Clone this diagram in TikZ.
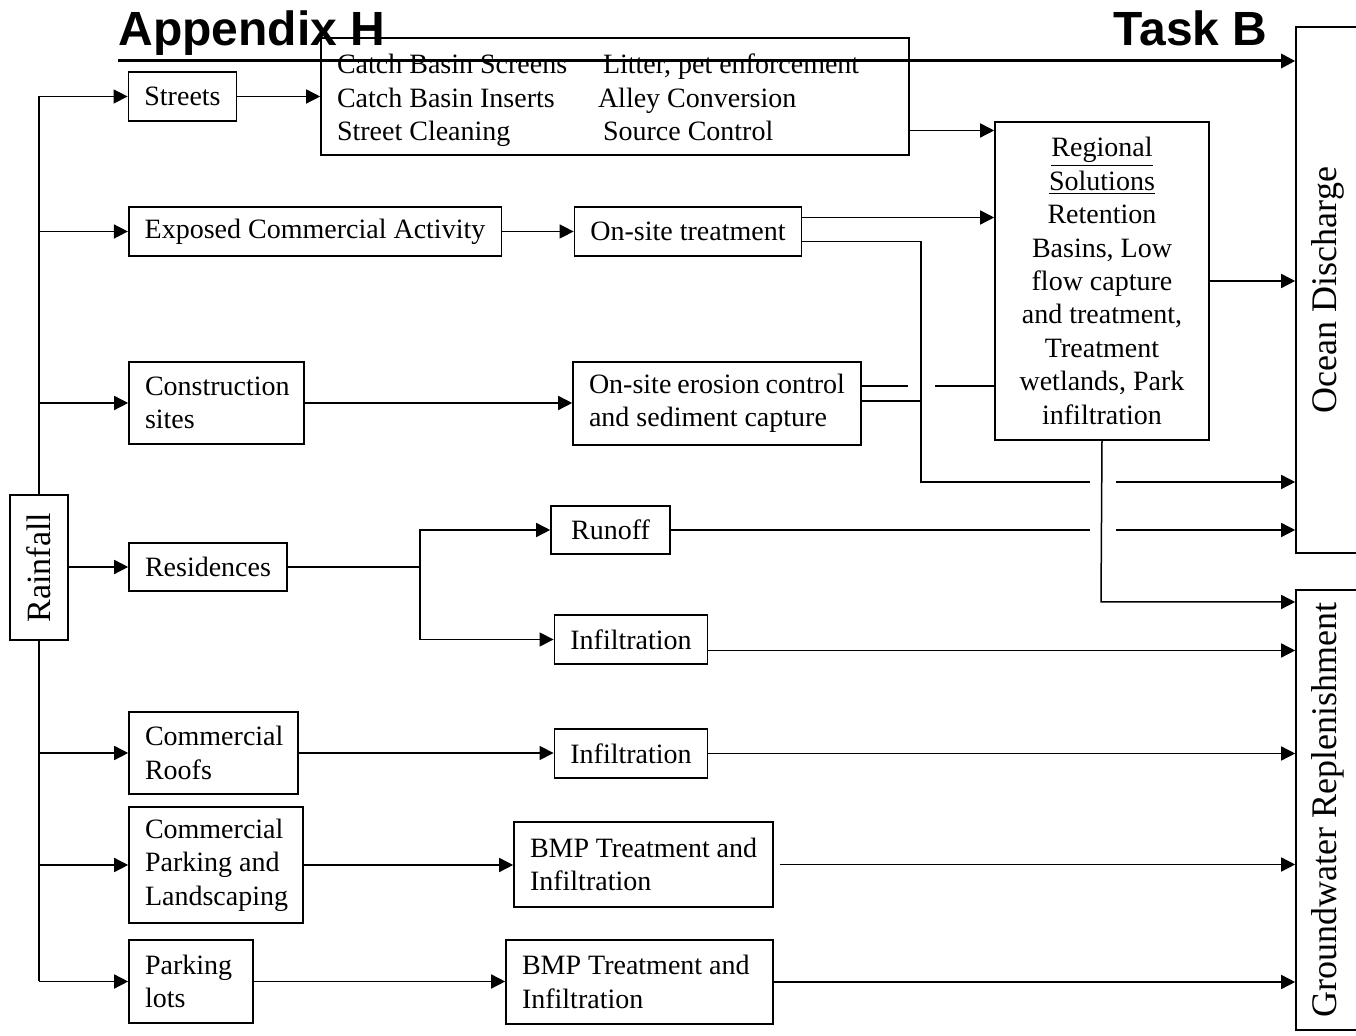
\documentclass[tikz,border=0pt]{standalone}
\usepackage{fontspec}
\setmainfont{Liberation Serif}
\newfontfamily\headfont{Liberation Sans}
\usetikzlibrary{arrows.meta, positioning, calc}

\begin{document}
\begin{tikzpicture}[
    x=0.5pt, y=-0.5pt,
    box/.style={rectangle, draw=black, line width=0.8pt, inner xsep=8pt, inner ysep=0pt, font=\fontsize{14}{16.7}\selectfont},
    lbox/.style={box, text width=#1, align=flush left},
    sidebox/.style={rectangle, draw=black, line width=0.8pt, inner sep=0pt},
    heading/.style={inner sep=0pt, font=\headfont\bfseries\fontsize{24}{28}\selectfont},
    arrow/.style={-{Triangle[length=7pt, width=7pt]}, line width=0.75pt},
    link/.style={line width=0.75pt},
    headrule/.style={-{Triangle[length=7pt, width=7pt]}, line width=1.5pt}
]
\clip (0,0) rectangle (1356,1036);

% Headings
\node[heading, anchor=base west] (apph) at (118,46) {Appendix H};
\node[heading, anchor=base east] (task) at (1268,46) {Task B};

% Rainfall and the sources
\node[sidebox, minimum width=29pt, minimum height=72.5pt, font=\fontsize{17}{20}\selectfont] (rain) at (39,567.5) {\rotatebox{90}{Rainfall}};
\node[box, minimum width=53.5pt, minimum height=24.5pt] (streets) at (182.5,96.5) {Streets};
\node[box, minimum width=186pt, minimum height=24.5pt] (exposed) at (315,231.5) {Exposed Commercial Activity};
\node[lbox=71.5pt, minimum height=41pt] (constr) at (216.5,403) {Construction\\ sites};
\node[box, minimum width=79pt, minimum height=24pt] (res) at (208,567) {Residences};
\node[lbox=68.5pt, minimum height=41pt] (roofs) at (213.5,753) {Commercial\\ Roofs};
\node[lbox=71pt, minimum height=58pt] (cpark) at (216,865) {Commercial\\ Parking~and\\ Landscaping};
\node[lbox=46pt, minimum height=41.5pt] (plots) at (191,981.5) {Parking\\ lots};

% Controls and treatment
\node[box, text width=278pt, minimum height=58.5pt, align=flush left] (catch) at (615,96.5)
    {\raisebox{0pt}[\dimexpr\height+4pt][\depth]{\begin{tabular}{@{}p{133pt}@{}l@{}}
     Catch Basin Screens & Litter, pet enforcement\\
     Catch Basin Inserts & \hspace*{-2.5pt}Alley Conversion\\
     Street Cleaning & Source Control
     \end{tabular}}};
\node[box, minimum width=113pt, minimum height=24.5pt] (onsite) at (688,231.5) {On-site treatment};
\node[lbox=128pt, minimum height=41.5pt] (erosion) at (717,403.5) {On-site~erosion~control\\ and sediment capture};
\node[box, minimum width=59.5pt, minimum height=24pt] (runoff) at (610.5,530) {Runoff};
\node[box, minimum width=75pt, minimum height=24.5pt] (infres) at (631,639.5) {Infiltration};
\node[box, minimum width=75pt, minimum height=24.5pt] (infroof) at (631,753.5) {Infiltration};
\node[lbox=113.5pt, minimum height=42.5pt] (bmpa) at (643.5,864.5) {BMP~Treatment~and\\ Infiltration};
\node[lbox=117.5pt, minimum height=42pt] (bmpb) at (639.5,982) {BMP~Treatment~and\\ Infiltration};
\node[box, minimum width=107pt, minimum height=159pt, align=center] (regional) at (1102,281)
    {\underline{Regional}\\ \underline{Solutions}\\ Retention\\ Basins, Low\\ flow capture\\ and treatment,\\ Treatment\\ wetlands, Park\\ infiltration};

% Receiving waters (cut off at the right edge)
\node[sidebox, minimum width=32pt, minimum height=263pt] (ocean) at (1328,290) {\rotatebox{90}{\fontsize{18}{21}\selectfont Ocean Discharge}};
\node[sidebox, minimum width=32pt, minimum height=220pt] (gw) at (1328,810) {\rotatebox{90}{\fontsize{18}{21}\selectfont Groundwater Replenishment}};

% Helper points
\coordinate (rulestart) at (118,61);
\coordinate (split) at (420,567);
\coordinate (drop) at (921,482);
\coordinate (hopA) at (908,0);
\coordinate (hopB) at (935,0);
\coordinate (gapL) at (1090,0);
\coordinate (gapR) at (1116,0);
\coordinate (rdrop) at (1101,602);

% Rainfall trunk
\draw[link] (rain.north) -- (rain.north |- streets.west);
\draw[link] (rain.south) -- (rain.south |- plots.west);
\draw[arrow] (rain.north |- streets.west) -- (streets.west);
\draw[arrow] (rain.north |- exposed.west) -- (exposed.west);
\draw[arrow] (rain.north |- constr.west) -- (constr.west);
\draw[arrow] (rain.east |- res.west) -- (res.west);
\draw[arrow] (rain.south |- roofs.west) -- (roofs.west);
\draw[arrow] (rain.south |- cpark.west) -- (cpark.west);
\draw[arrow] (rain.south |- plots.west) -- (plots.west);

% Sources to controls
\draw[arrow] (streets.east) -- (streets.east -| catch.west);
\draw[arrow] (exposed.east) -- (onsite.west);
\draw[arrow] (constr.east) -- (constr.east -| erosion.west);
\draw[link] (res.east) -- (split);
\draw[arrow] (split) |- (runoff.west);
\draw[arrow] (split) |- (infres.west);
\draw[arrow] (roofs.east) -- (roofs.east -| infroof.west);
\draw[arrow] (cpark.east) -- (cpark.east -| bmpa.west);
\draw[arrow] (plots.east) -- (plots.east -| bmpb.west);

% Into regional solutions
\draw[arrow] ([yshift=-17pt]catch.east) -- ([yshift=-17pt]catch.east -| regional.west);
\draw[arrow] ([yshift=7pt]onsite.east) -- ([yshift=7pt]onsite.east -| regional.west);
\draw[link] ([yshift=8.75pt]erosion.east) -- ([yshift=8.75pt]erosion.east -| hopA);
\draw[link] ([yshift=8.75pt]erosion.east -| hopB) -- ([yshift=8.75pt]erosion.east -| regional.west);

% Bypass to the ocean
\draw[link] ([yshift=-5pt]onsite.east) -| (drop) -- (drop -| gapL);
\draw[link] ([yshift=1.25pt]erosion.east) -- ([yshift=1.25pt]erosion.east -| drop);
\draw[arrow] (drop -| gapR) -- (drop -| ocean.west);
\draw[link] (runoff.east) -- (runoff.east -| gapL);
\draw[arrow] (runoff.east -| gapR) -- (runoff.east -| ocean.west);
\draw[arrow] (regional.east) -- (regional.east -| ocean.west);
\draw[headrule] (rulestart) -- (rulestart -| ocean.west);

% To groundwater
\draw[arrow] (regional.south) -- (rdrop) -- (rdrop -| gw.west);
\draw[arrow] ([yshift=-5.5pt]infres.east) -- ([yshift=-5.5pt]infres.east -| gw.west);
\draw[arrow] (infroof.east) -- (infroof.east -| gw.west);
\draw[arrow] ([xshift=3pt]bmpa.east) -- (bmpa.east -| gw.west);
\draw[arrow] (bmpb.east) -- (bmpb.east -| gw.west);

\end{tikzpicture}
\end{document}
